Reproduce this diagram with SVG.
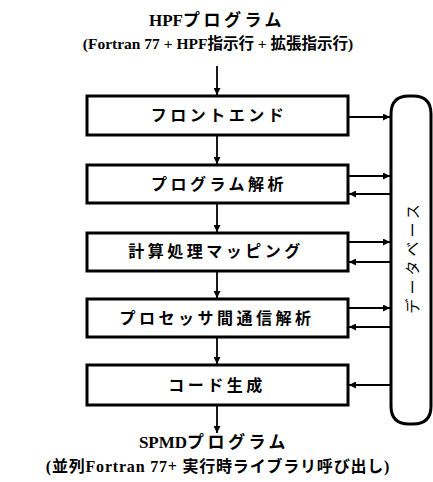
<svg xmlns="http://www.w3.org/2000/svg" width="433" height="482" viewBox="0 0 433 482">
<style>
.box{fill:#fff;stroke:#000;stroke-width:3}
.lbl{font-family:"Noto Sans CJK JP","Noto Sans",sans-serif;font-size:16px;font-weight:bold;text-anchor:middle;letter-spacing:3.5px;fill:#000}
.ttl{font-family:"Liberation Serif","Noto Sans CJK JP",serif;font-weight:bold;text-anchor:middle;fill:#000}
.ln{stroke:#000;stroke-width:1.8;fill:none}
</style>
<defs>
<marker id="ah" viewBox="0 0 10 10" refX="10" refY="5" markerWidth="8" markerHeight="7" markerUnits="userSpaceOnUse" orient="auto">
<path d="M0,0 L10,5 L0,10 Z" fill="#000"/>
</marker>
</defs>
<rect width="433" height="482" fill="#fff"/>
<g id="title-in">
<text class="ttl" x="217" y="26" font-size="17">HPF<tspan letter-spacing="3.5">プログラム</tspan></text>
<text class="ttl" x="218" y="49" font-size="15.5">(Fortran 77 + HPF指示行 + 拡張指示行)</text>
</g>
<g id="n1"><rect class="box" x="87" y="96" width="261" height="39"/><text class="lbl" x="219" y="121">フロントエンド</text></g>
<g id="n2"><rect class="box" x="87" y="165" width="261" height="38"/><text class="lbl" x="219" y="190">プログラム解析</text></g>
<g id="n3"><rect class="box" x="87" y="233" width="261" height="38"/><text class="lbl" x="216" y="257">計算処理マッピング</text></g>
<g id="n4"><rect class="box" x="87" y="299" width="261" height="38"/><text class="lbl" x="217" y="324">プロセッサ間通信解析</text></g>
<g id="n5"><rect class="box" x="87" y="365" width="261" height="40"/><text class="lbl" x="217" y="391">コード生成</text></g>
<g id="db">
<path d="M409,96 H413 Q431,96 431,114 V406 Q431,424 413,424 H409 Q391,424 391,406 V114 Q391,96 409,96 Z" fill="#fff" stroke="#000" stroke-width="3"/>
<text transform="translate(418,257) rotate(-90)" font-family="Noto Sans CJK JP,sans-serif" font-size="15" text-anchor="middle" letter-spacing="4">データベース</text>
</g>
<g id="connectors">
<line class="ln" x1="217" y1="66" x2="217" y2="95" marker-end="url(#ah)"/>
<line class="ln" x1="217" y1="136" x2="217" y2="164" marker-end="url(#ah)"/>
<line class="ln" x1="217" y1="204" x2="217" y2="232" marker-end="url(#ah)"/>
<line class="ln" x1="217" y1="272" x2="217" y2="298" marker-end="url(#ah)"/>
<line class="ln" x1="217" y1="338" x2="217" y2="364" marker-end="url(#ah)"/>
<line class="ln" x1="217" y1="406" x2="217" y2="433" marker-end="url(#ah)"/>
<line class="ln" x1="349" y1="117" x2="390" y2="117" marker-end="url(#ah)"/>
<line class="ln" x1="349" y1="176" x2="390" y2="176" marker-end="url(#ah)"/>
<line class="ln" x1="390" y1="194" x2="349" y2="194" marker-end="url(#ah)"/>
<line class="ln" x1="349" y1="242" x2="390" y2="242" marker-end="url(#ah)"/>
<line class="ln" x1="390" y1="262" x2="349" y2="262" marker-end="url(#ah)"/>
<line class="ln" x1="349" y1="308" x2="390" y2="308" marker-end="url(#ah)"/>
<line class="ln" x1="390" y1="327" x2="349" y2="327" marker-end="url(#ah)"/>
<line class="ln" x1="390" y1="385" x2="349" y2="385" marker-end="url(#ah)"/>
</g>
<g id="title-out">
<text class="ttl" x="214" y="448" font-size="17">SPMD<tspan letter-spacing="3.5">プログラム</tspan></text>
<text class="ttl" x="218" y="472" font-size="16" letter-spacing="0.8">(並列Fortran 77+ 実行時ライブラリ呼び出し)</text>
</g>
</svg>
